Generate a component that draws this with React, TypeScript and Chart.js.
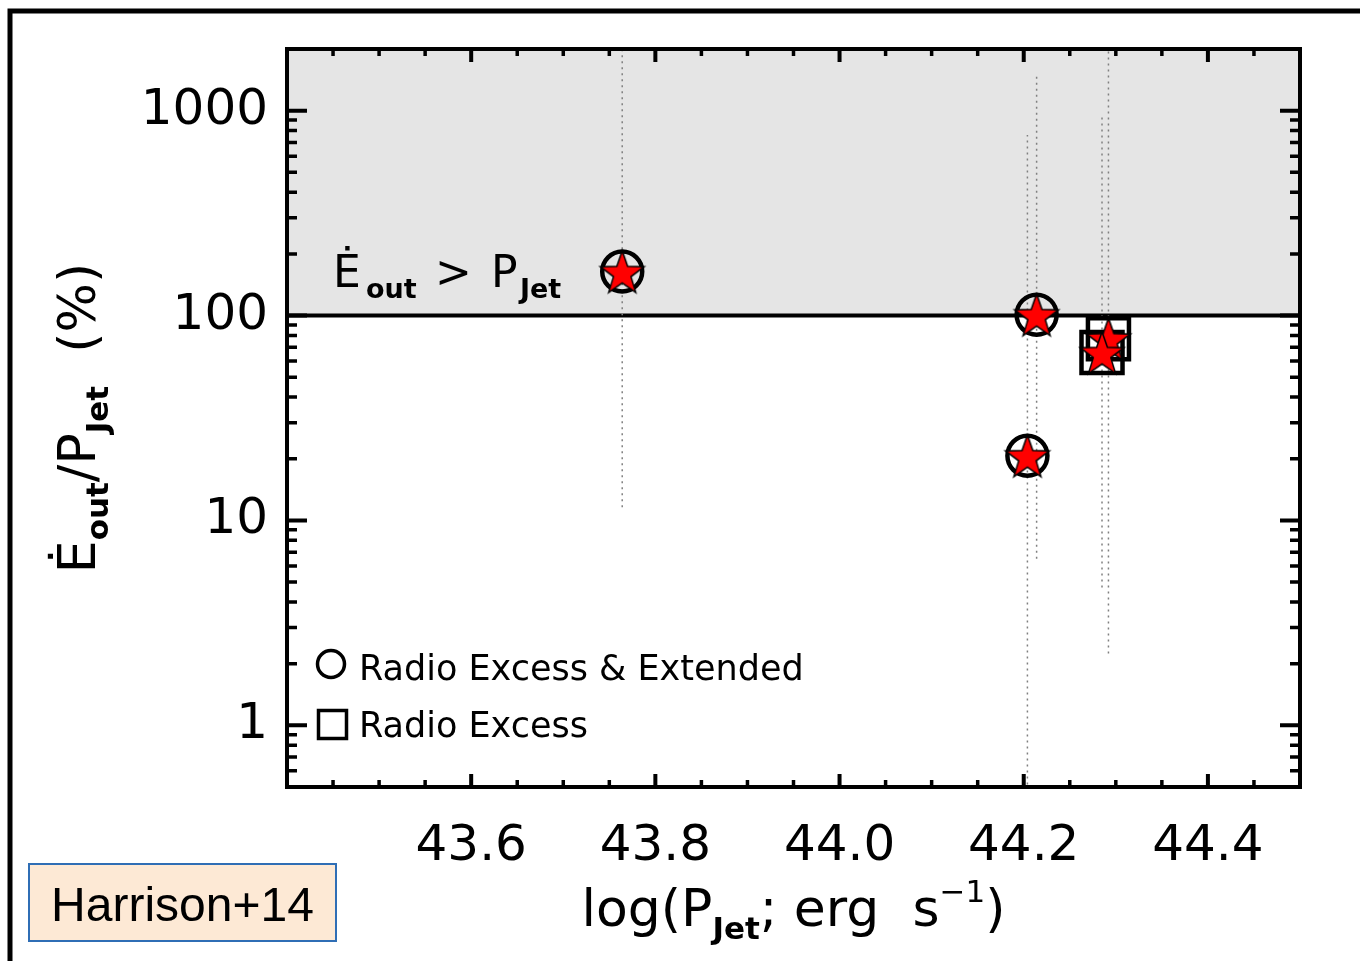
import React, { useEffect, useRef } from "react";
import { Chart, registerables } from "chart.js";

Chart.register(...registerables);

// ---- data ----
const logPJet = [43.764, 44.214, 44.204, 44.292, 44.285];
const eoutPct = [164, 101, 20.7, 77, 66];
const errLow = [11.6, 6.5, 0.3, 2.24, 4.7];
const errHigh = [5000, 1480, 760, 5000, 930];
const isExtended = [true, true, true, false, false];

const xMin = 43.4;
const xMax = 44.5;
const yMin = 0.5;
const yMax = 2000;
const xTickValues = [43.6, 43.8, 44.0, 44.2, 44.4];
const xTickLabels = ["43.6", "43.8", "44.0", "44.2", "44.4"];
const yTickValues = [1, 10, 100, 1000];
const yTickLabels = ["1", "10", "100", "1000"];
const threshold = 100;
const legendLabels = ["Radio Excess & Extended", "Radio Excess"];
const creditText = "Harrison+14";

const FONT = "'DejaVu Sans', sans-serif";

function makeStar(R: number): HTMLCanvasElement {
  const c = document.createElement("canvas");
  const s = Math.ceil(R * 2 + 4);
  c.width = s;
  c.height = s;
  const g = c.getContext("2d")!;
  const cx = s / 2;
  const cy = s / 2 + R * 0.1;
  const r = R * 0.4;
  g.beginPath();
  for (let i = 0; i < 10; i++) {
    const rad = i % 2 === 0 ? R : r;
    const ang = -Math.PI / 2 + (i * Math.PI) / 5;
    const px = cx + rad * Math.cos(ang);
    const py = cy + rad * Math.sin(ang);
    if (i === 0) g.moveTo(px, py);
    else g.lineTo(px, py);
  }
  g.closePath();
  g.fillStyle = "#ff0000";
  g.fill();
  g.lineWidth = 1.5;
  g.strokeStyle = "#000";
  g.stroke();
  return c;
}

type Seg = { text: string; font: string; dy?: number };

function drawRich(ctx: CanvasRenderingContext2D, x: number, y: number, segs: Seg[]) {
  let cx = x;
  for (const s of segs) {
    ctx.font = s.font;
    ctx.fillText(s.text, cx, y + (s.dy || 0));
    cx += ctx.measureText(s.text).width;
  }
  return cx;
}
function richWidth(ctx: CanvasRenderingContext2D, segs: Seg[]) {
  let w = 0;
  for (const s of segs) {
    ctx.font = s.font;
    w += ctx.measureText(s.text).width;
  }
  return w;
}

const decor = {
  id: "decor",
  beforeDatasetsDraw(chart: any) {
    const { ctx, chartArea: a, scales } = chart;
    const y100 = scales.y.getPixelForValue(threshold);
    ctx.save();
    ctx.fillStyle = "#e5e5e5";
    ctx.fillRect(a.left, a.top, a.right - a.left, y100 - a.top);
    ctx.beginPath();
    ctx.moveTo(a.left, y100);
    ctx.lineTo(a.right, y100);
    ctx.lineWidth = 4;
    ctx.strokeStyle = "#000";
    ctx.stroke();
    ctx.restore();
  },
  afterDraw(chart: any) {
    const { ctx, chartArea: a, scales } = chart;
    const xs = scales.x;
    const ys = scales.y;
    ctx.save();
    ctx.strokeStyle = "#000";
    ctx.fillStyle = "#000";
    ctx.lineCap = "butt";

    // ticks (inward, mirrored)
    const xMajorLen = 13, xMinorLen = 7, yMajorLen = 20, yMinorLen = 10;
    const xMajors: number[] = [xMin, ...xTickValues];
    for (let v = xMin; v <= xMax + 1e-9; v += 0.05) {
      const vv = Math.round(v * 100) / 100;
      const isMajor = xMajors.some((m) => Math.abs(m - vv) < 1e-6);
      const px = xs.getPixelForValue(vv);
      if (px <= a.left + 1 || px >= a.right - 1) continue;
      const L = isMajor ? xMajorLen : xMinorLen;
      ctx.lineWidth = isMajor ? 4 : 3.5;
      ctx.beginPath();
      ctx.moveTo(px, a.bottom);
      ctx.lineTo(px, a.bottom - L);
      ctx.moveTo(px, a.top);
      ctx.lineTo(px, a.top + L);
      ctx.stroke();
    }
    const decades = [0.1, 1, 10, 100, 1000];
    for (const d of decades) {
      for (let k = 1; k <= 9; k++) {
        const v = k * d;
        if (v < yMin - 1e-9 || v > yMax + 1e-9) continue;
        const py = ys.getPixelForValue(v);
        if (py <= a.top + 1 || py >= a.bottom - 1) continue;
        const isMajor = k === 1;
        const L = isMajor ? yMajorLen : yMinorLen;
        ctx.lineWidth = isMajor ? 4 : 3.5;
        ctx.beginPath();
        ctx.moveTo(a.left, py);
        ctx.lineTo(a.left + L, py);
        ctx.moveTo(a.right, py);
        ctx.lineTo(a.right - L, py);
        ctx.stroke();
      }
    }

    // plot frame
    ctx.lineWidth = 4;
    ctx.strokeRect(a.left, a.top, a.right - a.left, a.bottom - a.top);

    // annotation text: Ė_out > P_Jet
    ctx.textBaseline = "alphabetic";
    ctx.textAlign = "left";
    const big44 = `44px ${FONT}`;
    const sub28 = `bold 27px ${FONT}`;
    ctx.font = big44;
    ctx.fillText("\u0116", 333, 287);
    ctx.font = sub28;
    ctx.fillText("out", 366, 298);
    ctx.font = big44;
    ctx.fillText(">", 435, 287);
    ctx.fillText("P", 491, 287);
    ctx.font = sub28;
    ctx.fillText("Jet", 520, 298);

    // legend
    ctx.lineWidth = 3.5;
    ctx.beginPath();
    ctx.arc(331, 664, 13.5, 0, Math.PI * 2);
    ctx.stroke();
    ctx.strokeRect(318.5, 710.5, 28, 28);
    ctx.font = `35px ${FONT}`;
    ctx.fillText(legendLabels[0], 359, 680);
    ctx.fillText(legendLabels[1], 359, 737);

    // x title
    const xt: Seg[] = [
      { text: "log(P", font: `52px ${FONT}` },
      { text: "Jet", font: `bold 31px ${FONT}`, dy: 13 },
      { text: "; erg  s", font: `52px ${FONT}` },
      { text: "\u22121", font: `31px ${FONT}`, dy: -24 },
      { text: ")", font: `52px ${FONT}` },
    ];
    const xw = richWidth(ctx, xt);
    drawRich(ctx, (a.left + a.right) / 2 - xw / 2, 926, xt);

    // y title (rotated)
    const yt: Seg[] = [
      { text: "\u0116", font: `52px ${FONT}` },
      { text: "out", font: `bold 31px ${FONT}`, dy: 13 },
      { text: "/P", font: `52px ${FONT}` },
      { text: "Jet", font: `bold 31px ${FONT}`, dy: 13 },
      { text: "  (%)", font: `52px ${FONT}` },
    ];
    const yw = richWidth(ctx, yt);
    ctx.save();
    ctx.translate(95, 418 + yw / 2);
    ctx.rotate(-Math.PI / 2);
    drawRich(ctx, 0, 0, yt);
    ctx.restore();

    // credit box
    ctx.fillStyle = "#fde9d5";
    ctx.fillRect(29, 864, 307, 77);
    ctx.strokeStyle = "#2f6eb5";
    ctx.lineWidth = 2;
    ctx.strokeRect(29, 864, 307, 77);
    ctx.fillStyle = "#000";
    ctx.font = `48px 'Liberation Sans', sans-serif`;
    ctx.textAlign = "center";
    ctx.fillText(creditText, 182.5, 921);

    // outer frame
    ctx.strokeStyle = "#000";
    ctx.lineWidth = 5;
    ctx.beginPath();
    ctx.moveTo(10, 961);
    ctx.lineTo(10, 11);
    ctx.lineTo(1360, 11);
    ctx.stroke();
    ctx.restore();
  },
};

export default function App() {
  const ref = useRef<HTMLCanvasElement | null>(null);
  useEffect(() => {
    if (!ref.current) return;
    const star = makeStar(23);
    const pts = logPJet.map((x, i) => ({ x, y: eoutPct[i] }));
    const circlePts = pts.filter((_, i) => isExtended[i]);
    const squarePts = pts.filter((_, i) => !isExtended[i]);
    const errSets = logPJet.map((x, i) => ({
      label: "err" + i,
      data: [
        { x, y: errLow[i] },
        { x, y: errHigh[i] },
      ],
      showLine: true,
      borderColor: "#808080",
      borderWidth: 1.5,
      borderDash: [2, 4],
      pointRadius: 0,
      order: 2,
    }));
    const chart = new Chart(ref.current, {
      type: "scatter",
      data: {
        datasets: [
          {
            label: "stars",
            data: pts,
            pointStyle: star as any,
            pointRadius: 23,
            order: 0,
          },
          {
            label: legendLabels[0],
            data: circlePts,
            pointStyle: "circle",
            pointRadius: 20,
            borderWidth: 4.5,
            borderColor: "#000",
            backgroundColor: "rgba(0,0,0,0)",
            order: 1,
          },
          {
            label: legendLabels[1],
            data: squarePts,
            pointStyle: "rect",
            pointRadius: 29,
            borderWidth: 4.5,
            borderColor: "#000",
            backgroundColor: "rgba(0,0,0,0)",
            order: 1,
          },
          ...errSets,
        ] as any,
      },
      options: {
        responsive: false,
        animation: false,
        devicePixelRatio: 1,
        events: [],
        layout: { padding: { top: 43, right: 60, left: 0, bottom: 0 } },
        plugins: { legend: { display: false }, tooltip: { enabled: false } },
        scales: {
          x: {
            type: "linear",
            position: "bottom",
            min: xMin,
            max: xMax,
            grid: { display: false, drawTicks: false },
            border: { display: false },
            afterBuildTicks: (s: any) => {
              s.ticks = xTickValues.map((v) => ({ value: v }));
            },
            afterFit: (s: any) => {
              s.height = 961 - 787;
            },
            ticks: {
              autoSkip: false,
              maxRotation: 0,
              padding: 30,
              color: "#000",
              font: { family: "DejaVu Sans", size: 50 },
              callback: (_v: any, i: number) => xTickLabels[i],
            },
          },
          y: {
            type: "logarithmic",
            position: "left",
            min: yMin,
            max: yMax,
            grid: { display: false, drawTicks: false },
            border: { display: false },
            afterBuildTicks: (s: any) => {
              s.ticks = yTickValues.map((v) => ({ value: v }));
            },
            afterFit: (s: any) => {
              s.width = 287;
            },
            ticks: {
              autoSkip: false,
              padding: 19,
              color: "#000",
              font: { family: "DejaVu Sans", size: 50 },
              callback: (_v: any, i: number) => yTickLabels[i],
            },
          },
        },
      } as any,
      plugins: [decor],
    });
    return () => chart.destroy();
  }, []);
  return (
    <div
      style={{
        position: "absolute",
        left: 0,
        top: 0,
        width: 1360,
        height: 961,
        background: "#fff",
        overflow: "hidden",
      }}
    >
      <canvas ref={ref} width={1360} height={961} style={{ display: "block" }} />
    </div>
  );
}
